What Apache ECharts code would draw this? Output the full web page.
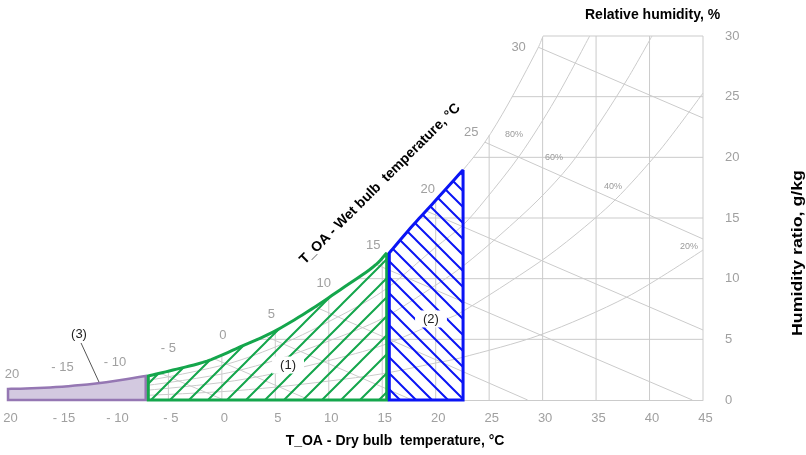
<!DOCTYPE html>
<html><head><meta charset="utf-8">
<script src="https://cdn.jsdelivr.net/npm/echarts@6/dist/echarts.min.js"></script>
<style>html,body{margin:0;padding:0;background:#fff}#c{width:806px;height:455px}</style>
</head><body><div id="c"></div>
<script>
// ---------------- data ----------------
const xTicks = [-20,-15,-10,-5,0,5,10,15,20,25,30,35,40,45];
const xTickLabels = ['20','- 15','- 10','- 5','0','5','10','15','20','25','30','35','40','45'];
const yTicks = [0,5,10,15,20,25,30];

// saturation curve (dry bulb °C, humidity ratio g/kg)
const satT = [-20, -16.07, -11.40, -7.00, -4.57, -1.39, 1.70, 4.78, 7.96, 11.05, 14.14, 15.54, 17.60, 19.94, 22.56, 24.61, 26.67, 29.57, 30.04];
const satW = [0.91, 1.03, 1.40, 1.98, 2.47, 3.21, 4.37, 5.60, 7.25, 9.07, 10.96, 12.12, 14.13, 16.40, 18.96, 21.26, 24.23, 29.01, 30.00];

// relative humidity curves
const rhNames = ['80%','60%','40%','20%'];
const rh80T = [-20, -10, 0, 5, 10, 15, 20, 22.56, 24.61, 27.89, 31.16, 34.4];
const rh80W = [0.69, 1.21, 2.85, 4.37, 6.46, 8.93, 12.59, 14.42, 16.48, 20.19, 24.73, 30.0];
const rh60T = [-20, -10, 0, 5, 10, 15, 20, 22.56, 26.02, 29.57, 32.56, 35.37, 37.99, 40.23];
const rh60W = [0.52, 0.91, 2.14, 3.28, 4.86, 6.71, 9.46, 11.04, 13.60, 16.48, 19.37, 22.91, 26.54, 30.0];
const rh40T = [-20, -10, 0, 5, 10, 15, 20, 22.27, 29.57, 33.03, 36.77, 40.98, 45];
const rh40W = [0.35, 0.61, 1.44, 2.20, 3.25, 4.49, 6.34, 7.17, 11.29, 13.60, 16.48, 20.60, 25.30];
const rh20T = [-20, -10, 0, 5, 10, 15, 20, 22.27, 29.76, 37.89, 45];
const rh20W = [0.17, 0.29, 0.69, 1.06, 1.56, 2.16, 3.05, 3.46, 5.36, 8.49, 12.36];

// wet bulb lines
const wbLabelTemps = [-20,-15,-10,-5,0,5,10,15,20,25,30];
const wbTickLabels = ['20','- 15','- 10','- 5','0','5','10','15','20','25','30'];
const wbStartT = [-15.8, -10.8, -5.8, -0.8, 4.0, 8.7, 14.4, 19.1, 24.6, 29.6];
const wbEndT   = [-13.1, -7.0, 0.2, 8.2, 17.8, 28.6, 44.0, 45, 45, 45];
const wbEndW   = [0, 0, 0, 0, 0, 0, 0, 5.77, 13.27, 23.24];

// operating regions (dry bulb limits)
const regionNames  = ['(3)', '(1)', '(2)'];
const regionStartT = [-20, -7.00, 15.54];
const regionEndT   = [-7.00, 15.54, 22.56];

// ---------------- layout / style ----------------
const FONT = '"Liberation Sans", Arial, sans-serif';
const GRID = '#cbcbcb';
const wbLabelOffset = [[4,-15],[1,-19],[0,-18],[0,-23],[1,-19],[-4,-16],[-5,-14],[-9,-13],[-8,-11],[-18,-3],[-24,10]];
const rhLabelPos = [[27.33,21.84],[31.07,19.95],[36.59,17.56],[43.69,12.69]];
const regionLabelPos = [[-13.36,5.44],[6.19,2.88],[19.56,6.68]];
const leader = [[-13.17,4.70],[-11.49,1.48]];

function satAt(t){
  if (t <= satT[0]) return satW[0];
  for (let i=1;i<satT.length;i++){
    if (t <= satT[i]) { const f=(t-satT[i-1])/(satT[i]-satT[i-1]); return satW[i-1]+f*(satW[i]-satW[i-1]); }
  }
  return null;
}
function satInv(w){
  for (let i=1;i<satW.length;i++){
    if (w <= satW[i]) { const f=(w-satW[i-1])/(satW[i]-satW[i-1]); return satT[i-1]+f*(satT[i]-satT[i-1]); }
  }
  return satT[satT.length-1];
}
const zip=(a,b)=>a.map((v,i)=>[v,b[i]]);

// Catmull-Rom smoothing of a pixel polyline (drawing only)
function smoothPts(p, n){
  const out=[p[0].slice()];
  for (let i=0;i<p.length-1;i++){
    const p0=p[i-1]||p[i], p1=p[i], p2=p[i+1], p3=p[i+2]||p[i+1];
    for (let k=1;k<=n;k++){
      const t=k/n, t2=t*t, t3=t2*t;
      const f=j=>0.5*((2*p1[j])+(-p0[j]+p2[j])*t+(2*p0[j]-5*p1[j]+4*p2[j]-p3[j])*t2+(-p0[j]+3*p1[j]-3*p2[j]+p3[j])*t3);
      out.push([f(0),f(1)]);
    }
  }
  return out;
}

// grid segments
const segs = [];
yTicks.slice(1).forEach(w=>segs.push([[satInv(w),w],[45,w]]));
xTicks.slice(1).forEach(t=>{ const s=satAt(t); segs.push([[t,0],[t, s===null?30:Math.min(s,30)]]); });
wbStartT.forEach((s,i)=>segs.push([[s,satAt(s)],[wbEndT[i],wbEndW[i]]]));

function hatch(color, step, dir, lw){
  const c=document.createElement('canvas'); c.width=step; c.height=step;
  const g=c.getContext('2d'); g.strokeStyle=color; g.lineWidth=lw; g.lineCap='square'; g.beginPath();
  for (let k=-2;k<=2;k++){
    const x0=k*step;
    if (dir>0){ g.moveTo(x0-step,2*step); g.lineTo(x0+2*step,-step); }
    else { g.moveTo(x0-step,-step); g.lineTo(x0+2*step,2*step); }
  }
  g.stroke(); return c;
}
const regionStyle = [
  {fill:'#d3c9e0', stroke:'#9577b3', lw:2.5},
  {fill:{image:hatch('#14a64c',19,1,2),repeat:'repeat'}, stroke:'#14a64c', lw:3},
  {fill:{image:hatch('#0a14f5',16,-1,2),repeat:'repeat'}, stroke:'#0a14f5', lw:3}
];

const chart = echarts.init(document.getElementById('c'), null, {renderer:'canvas'});
const lineCommon = {type:'line', showSymbol:false, silent:true, z:1, lineStyle:{color:GRID, width:1}, smooth:0.3};

chart.setOption({
  animation:false,
  grid:{left:8, right:103, top:36, bottom:55},
  xAxis:{type:'value', min:-20, max:45, interval:5,
    axisLine:{show:true, lineStyle:{color:GRID}}, axisTick:{show:false}, splitLine:{show:false},
    axisLabel:{color:'#a0a0a0', fontSize:13, fontFamily:FONT, margin:12, showMinLabel:true, showMaxLabel:true, padding:[0,0,0,5],
      formatter:v=>{const i=xTicks.indexOf(Math.round(v)); return i>=0?xTickLabels[i]:'';}}},
  yAxis:{type:'value', position:'right', min:0, max:30, interval:5,
    axisLine:{show:false}, axisTick:{show:false}, splitLine:{show:false},
    axisLabel:{color:'#a0a0a0', fontSize:13, fontFamily:FONT, margin:22}},
  series:[
    {type:'custom', silent:true, z:1, data:segs.map(s=>s[0]),
      renderItem:(p,api)=>({type:'polyline', shape:{points:segs[p.dataIndex].map(q=>api.coord(q))},
        style:{stroke:GRID, lineWidth:1, fill:null}})},
    Object.assign({}, lineCommon, {data:zip(satT,satW)}),
    Object.assign({}, lineCommon, {data:zip(rh80T,rh80W)}),
    Object.assign({}, lineCommon, {data:zip(rh60T,rh60W)}),
    Object.assign({}, lineCommon, {data:zip(rh40T,rh40W)}),
    Object.assign({}, lineCommon, {data:zip(rh20T,rh20W)}),
    {type:'custom', silent:true, z:3, data:regionStartT.map(t=>[t,0]),
      renderItem:(p,api)=>{
        const i=p.dataIndex, s=regionStartT[i], e=regionEndT[i];
        const top=[[s,satAt(s)]];
        satT.forEach((t,k)=>{ if(t>s && t<e) top.push([t,satW[k]]); });
        top.push([e,satAt(e)]);
        const inL = i>0 ? 1.3 : 0, inR = i<regionStartT.length-1 ? 1.3 : 0;
        const raw = top.map(q=>api.coord(q));
        raw[0][0]+=inL; raw[raw.length-1][0]-=inR;
        const topPx = smoothPts(raw, 8);
        const bR=api.coord([e,0]), bL=api.coord([s,0]);
        bR[0]-=inR; bL[0]+=inL;
        const pts=topPx.concat([bR,bL]);
        const st=regionStyle[i];
        return {type:'polygon', shape:{points:pts}, style:{fill:st.fill, stroke:st.stroke, lineWidth:st.lw, lineJoin:'miter', miterLimit:1.6}};
      }},
    {type:'custom', silent:true, z:5, data:wbLabelTemps.map(t=>[t,satAt(t)]),
      renderItem:(p,api)=>{
        const i=p.dataIndex, c=api.coord([wbLabelTemps[i], satAt(wbLabelTemps[i])]), o=wbLabelOffset[i];
        return {type:'text', x:c[0]+o[0], y:c[1]+o[1], style:{text:wbTickLabels[i], fill:'#a0a0a0', font:'13px '+FONT, align:'center', verticalAlign:'middle'}};
      }},
    {type:'custom', silent:true, z:5, data:rhLabelPos,
      renderItem:(p,api)=>{
        const c=api.coord(rhLabelPos[p.dataIndex]);
        return {type:'text', x:c[0], y:c[1], style:{text:rhNames[p.dataIndex], fill:'#9a9a9a', font:'9px '+FONT, align:'center', verticalAlign:'middle'}};
      }},
    {type:'custom', silent:true, z:6, data:regionLabelPos,
      renderItem:(p,api)=>{
        const i=p.dataIndex, c=api.coord(regionLabelPos[i]);
        const children=[{type:'text', x:c[0], y:c[1], style:{text:regionNames[i], fill:'#222', font:'13px '+FONT, align:'center', verticalAlign:'middle', backgroundColor:i>0?'#fff':null, padding:[2,8]}}];
        if(i===0) children.push({type:'polyline', shape:{points:leader.map(q=>api.coord(q))}, style:{stroke:'#555', lineWidth:1, fill:null}});
        return {type:'group', children};
      }}
  ],
  graphic:[
    {type:'text', x:395, y:441, style:{text:'T_OA - Dry bulb  temperature, °C', font:'bold 14px '+FONT, fill:'#000', align:'center', verticalAlign:'middle'}},
    {type:'text', x:585, y:15, style:{text:'Relative humidity, %', font:'bold 14px '+FONT, fill:'#000', align:'left', verticalAlign:'middle'}},
    {type:'text', x:798, y:253, rotation:Math.PI/2, scaleX:1.27, style:{text:'Humidity ratio, g/kg', font:'bold 14px '+FONT, fill:'#000', align:'center', verticalAlign:'middle'}},
    {type:'text', x:380, y:184, rotation:Math.PI/4, style:{text:'T_OA - Wet bulb  temperature, °C', font:'bold 14px '+FONT, fill:'#000', align:'center', verticalAlign:'middle'}}
  ]
});
</script></body></html>
